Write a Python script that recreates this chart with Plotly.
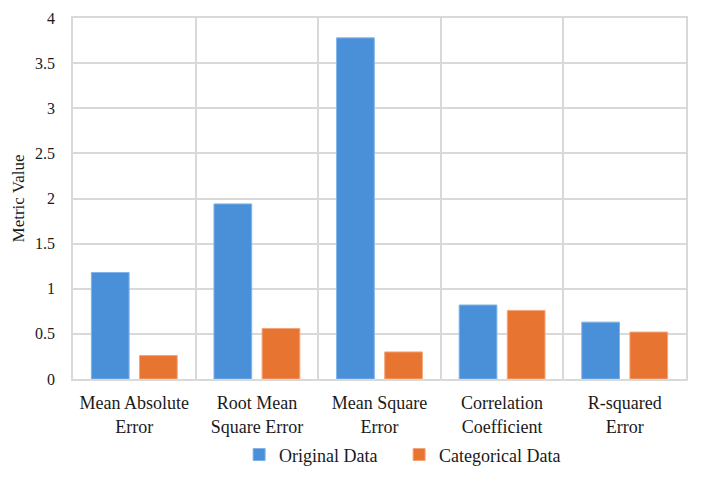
import plotly.graph_objects as go

categories = ["Mean Absolute<br>Error", "Root Mean<br>Square Error", "Mean Square<br>Error",
              "Correlation<br>Coefficient", "R-squared<br>Error"]
original_data = [1.18, 1.94, 3.78, 0.82, 0.63]
categorical_data = [0.26, 0.56, 0.30, 0.76, 0.52]
y_ticks = [0, 0.5, 1, 1.5, 2, 2.5, 3, 3.5, 4]
y_tick_labels = ["0", "0.5", "1", "1.5", "2", "2.5", "3", "3.5", "4"]

FONT = "Liberation Serif, Times New Roman, serif"
GRID = "#d9d9d9"

fig = go.Figure()
fig.add_trace(go.Bar(x=categories, y=original_data, name="Original Data", legend="legend",
                     marker=dict(color="#4a90d9", line=dict(color="#7fb3ea", width=1))))
fig.add_trace(go.Bar(x=categories, y=categorical_data, name="Categorical Data", legend="legend2",
                     marker=dict(color="#e87432", line=dict(color="#f4a67a", width=1))))

legend_common = dict(orientation="h", yanchor="middle", y=-0.21, xanchor="left",
                     font=dict(size=18, family=FONT, color="#1a1a1a"),
                     bgcolor="rgba(0,0,0,0)")

fig.update_layout(
    width=710, height=485,
    margin=dict(l=65, r=32, t=10, b=114),
    paper_bgcolor="white", plot_bgcolor="white",
    font=dict(family=FONT, size=17, color="#1a1a1a"),
    barmode="group", bargap=0.215, bargroupgap=0.216,
    legend=dict(x=0.271, **legend_common),
    legend2=dict(x=0.532, **legend_common),
    showlegend=True,
)
fig.update_xaxes(
    tickson="boundaries", showgrid=True, gridcolor=GRID, gridwidth=1.5,
    showline=True, linecolor=GRID, linewidth=1.5, mirror=True,
    ticks="", ticklabelstandoff=7,
    tickfont=dict(size=18), automargin=False,
)
fig.update_yaxes(
    range=[0, 4], tickvals=y_ticks, ticktext=y_tick_labels,
    showgrid=True, gridcolor=GRID, gridwidth=1.5,
    showline=True, linecolor=GRID, linewidth=1.5, mirror=True,
    ticks="outside", ticklen=13, tickcolor="rgba(0,0,0,0)",
    zeroline=False, tickfont=dict(size=16), automargin=False,
    title=dict(text="Metric Value", font=dict(size=17), standoff=6),
)

fig.write_html("out.html")
